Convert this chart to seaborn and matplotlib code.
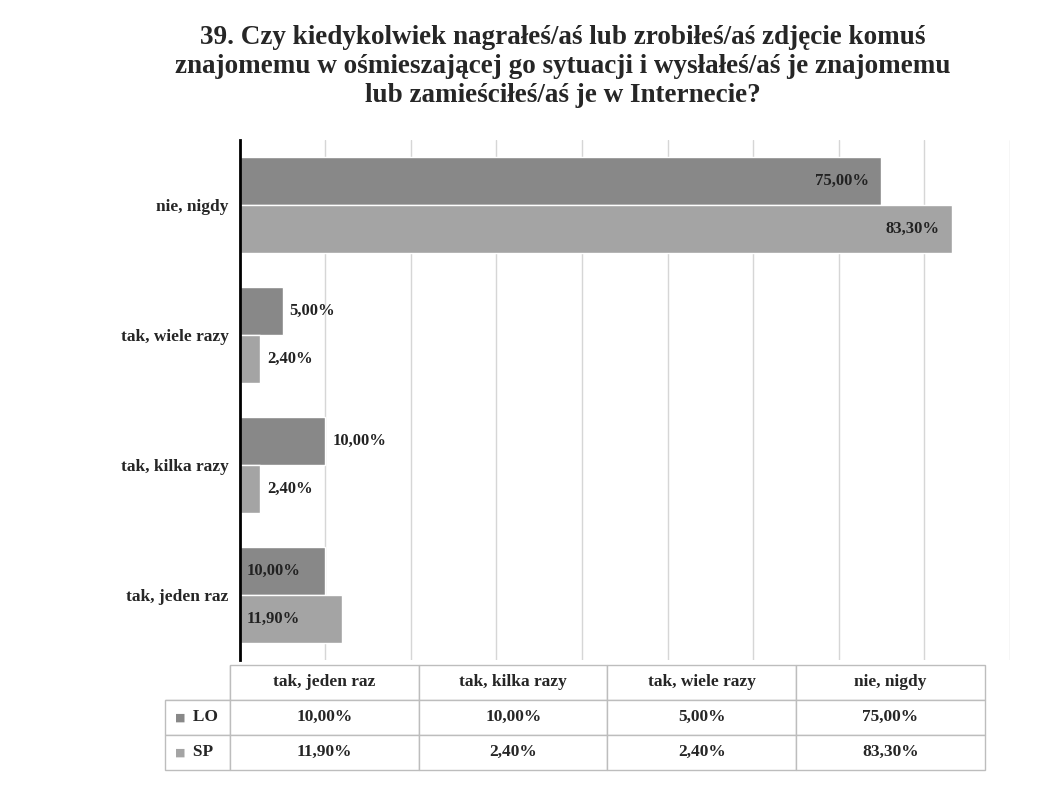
import numpy as np
import pandas as pd
import matplotlib
matplotlib.use("Agg")
import matplotlib.pyplot as plt
import seaborn as sns

# data
categories = ["nie, nigdy", "tak, wiele razy", "tak, kilka razy", "tak, jeden raz"]
lo_values = [75.00, 5.00, 10.00, 10.00]
sp_values = [83.30, 2.40, 2.40, 11.90]
groups = ["LO", "SP"]
# table columns are in the Excel order (bottom category first)
table_cols = ["tak, jeden raz", "tak, kilka razy", "tak, wiele razy", "nie, nigdy"]

def pl(v):
    return f"{v:.2f}".replace(".", ",") + "%"

df = pd.DataFrame({
    "kategoria": categories * 2,
    "grupa": ["LO"] * 4 + ["SP"] * 4,
    "procent": lo_values + sp_values,
})

sns.set_style("white")
plt.rcParams["font.family"] = ["Liberation Serif", "DejaVu Serif"]
plt.rcParams["font.weight"] = "bold"

colors = {"LO": "#888888", "SP": "#a4a4a4"}

fig = plt.figure(figsize=(10.43, 7.87), dpi=100)
ax = fig.add_axes([0.230, 0.161, 0.738, 0.661])

sns.barplot(data=df, y="kategoria", x="procent", hue="grupa", order=categories,
            hue_order=groups, palette=colors, orient="h", width=0.74,
            edgecolor="white", linewidth=1, legend=False, ax=ax)

ax.set_xlim(0, 90)
ax.set_xticks(np.arange(0, 91, 10))
ax.xaxis.grid(True, color="#d6d6d6", linewidth=1)
ax.set_axisbelow(True)
ax.tick_params(axis="x", length=0, labelbottom=False)
ax.tick_params(axis="y", length=0, labelsize=12.5, pad=8)
for lab in ax.get_yticklabels():
    lab.set_fontweight("bold")
ax.set_xlabel("")
ax.set_ylabel("")
for side in ["top", "right", "bottom"]:
    ax.spines[side].set_visible(False)
ax.spines["left"].set_color("black")
ax.spines["left"].set_linewidth(2)

# value labels: inside for long bars and the bottom group, outside otherwise
inside = {"nie, nigdy": "end", "tak, jeden raz": "start"}
for cont, g in zip(ax.containers, groups):
    for bar, cat in zip(cont, categories):
        v = bar.get_width()
        yc = bar.get_y() + bar.get_height() / 2
        mode = inside.get(cat)
        if mode == "end":
            ax.text(v - 1.5, yc, pl(v), ha="right", va="center", fontsize=12,
                    fontweight="bold", color="#222222")
        elif mode == "start":
            ax.text(0.8, yc, pl(v), ha="left", va="center", fontsize=12,
                    fontweight="bold", color="#222222")
        else:
            ax.text(v + 0.8, yc, pl(v), ha="left", va="center", fontsize=12,
                    fontweight="bold", color="#222222")

fig.text(0.54, 0.968,
         "39. Czy kiedykolwiek nagrałeś/aś lub zrobiłeś/aś zdjęcie komuś\n"
         "znajomemu w ośmieszającej go sytuacji i wysłałeś/aś je znajomemu\n"
         "lub zamieściłeś/aś je w Internecie?",
         ha="center", va="top", fontsize=19.5, fontweight="bold",
         linespacing=1.2)

# data table under the chart
tax = fig.add_axes([0.158, 0.022, 0.786, 0.133])
tax.axis("off")
lo_map = dict(zip(categories, lo_values))
sp_map = dict(zip(categories, sp_values))
cell_text = [[""] + table_cols,
             ["   LO"] + [pl(lo_map[c]) for c in table_cols],
             ["   SP"] + [pl(sp_map[c]) for c in table_cols]]
tbl = tax.table(cellText=cell_text, bbox=[0, 0, 1, 1], cellLoc="center")
tbl.auto_set_font_size(False)
tbl.set_fontsize(12.5)
for (r, c), cell in tbl.get_celld().items():
    cell.set_edgecolor("#bdbdbd")
    cell.set_linewidth(1)
    cell.get_text().set_fontweight("bold")
    cell.set_width(0.08 if c == 0 else 0.23)
    if r == 0 and c == 0:
        cell.visible_edges = "BR"
    if c == 0:
        cell.get_text().set_ha("left")
for r, g in zip([1, 2], groups):
    tbl[r, 0].get_text().set_text("     " + g)
    cx = 0.012
    cy = 1 - (r + 0.5) / 3
    tax.text(cx, cy, "■", color=colors[g], fontsize=8, ha="left", va="center",
             family="DejaVu Sans", transform=tax.transAxes)

fig.savefig("out.png", dpi=100, facecolor="white")
